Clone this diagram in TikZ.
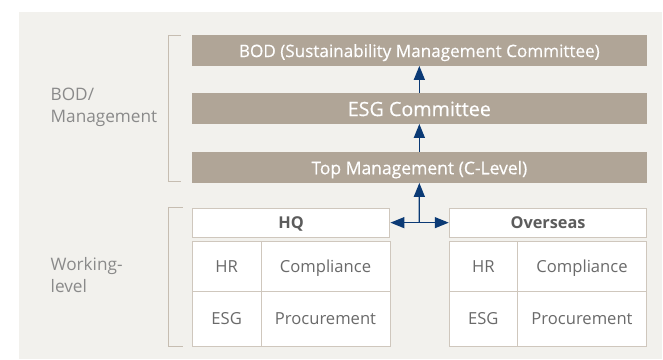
\documentclass[tikz,border=0pt]{standalone}
\usepackage{fontspec}
\setmainfont{Open Sans}
\newfontfamily\medfont{Open Sans}[FakeBold=0.4]
\usetikzlibrary{arrows.meta}
\definecolor{bgc}{HTML}{F2F1ED}
\definecolor{boxc}{HTML}{B0A597}
\definecolor{navy}{HTML}{0B3A75}
\definecolor{linec}{HTML}{CFC7BD}
\definecolor{brk}{HTML}{C6BDB1}
\definecolor{lbl}{HTML}{8A8A8A}
\definecolor{celltxt}{HTML}{6A6A6A}
\definecolor{unittxt}{HTML}{5C5C5C}
\tikzset{
  capcenter/.style={text height=#1, text depth=0pt},
  level/.style={fill=boxc, text=white, minimum width=454.7pt, minimum height=30.7pt, inner sep=0pt, anchor=center},
  unit/.style={draw=linec, line width=1pt, fill=white, minimum width=197.5pt, minimum height=29.3pt, inner sep=0pt, text=unittxt, font=\fontsize{16.3}{18}\selectfont\bfseries, capcenter=11.6pt},
  cell/.style={draw=linec, line width=1pt, fill=white, inner sep=0pt, text=celltxt, font=\fontsize{16.6}{18}\selectfont, capcenter=11.85pt},
  side/.style={text=lbl, align=left, anchor=west, font=\fontsize{17.2}{22}\selectfont, inner sep=0pt},
  bracket/.style={draw=brk, line width=1pt},
  uparrow/.style={draw=navy, line width=1.3pt, -{Triangle[length=14pt,width=11pt]}},
}
\begin{document}
\begin{tikzpicture}[x=1pt,y=-1pt]
\useasboundingbox (0,0) rectangle (663,359);
\fill[bgc] (19,12) rectangle (662,359);
% levels
\node[level, font=\medfont\fontsize{17.1}{18}\selectfont, capcenter=13.4pt] (bod) at (419.35,50.35) {BOD (Sustainability Management Committee)};
\node[level, font=\medfont\fontsize{19.7}{20}\selectfont, capcenter=15.4pt] (esg) at (419.35,108.35) {ESG Committee};
\node[level, font=\medfont\fontsize{17.5}{18}\selectfont, capcenter=13.8pt] (top) at (419.35,167.35) {Top Management (C-Level)};
% units
\node[unit] (hq) at (291.15,222.65) {HQ};
\node[unit] (ov) at (548,222.65) {Overseas};
% HQ grid
\node[cell, minimum width=68.7pt, minimum height=49.6pt] (hqhr) at (226.65,266.5) {HR};
\node[cell, minimum width=129pt, minimum height=49.6pt] (hqco) at (325.5,266.5) {Compliance};
\node[cell, minimum width=68.7pt, minimum height=54.7pt] (hqesg) at (226.65,318.65) {ESG};
\node[cell, minimum width=129pt, minimum height=54.7pt] (hqpr) at (325.5,318.65) {Procurement};
% Overseas grid
\node[cell, minimum width=68pt, minimum height=49.6pt] (ovhr) at (483.3,266.5) {HR};
\node[cell, minimum width=129.4pt, minimum height=49.6pt] (ovco) at (582,266.5) {Compliance};
\node[cell, minimum width=68pt, minimum height=54.7pt] (ovesg) at (483.3,318.65) {ESG};
\node[cell, minimum width=129.4pt, minimum height=54.7pt] (ovpr) at (582,318.65) {Procurement};
% side labels
\node[side] (lbm) at (50.5,107.5) {BOD/\\Management};
\node[side] (lwl) at (50.5,275) {Working-\\level};
% brackets
\draw[bracket] (180.7,35) -- (168.3,35) -- (168.3,181.5) -- (180.7,181.5);
\draw[bracket] (182.7,207.5) -- (168.3,207.5) -- (168.3,346) -- (182.7,346);
% arrows
\coordinate (hub) at (419.3,222.65);
\draw[uparrow] (top.north) -- (esg.south);
\draw[uparrow] (esg.north) -- (bod.south);
\draw[uparrow] (hub) -- (top.south);
\draw[uparrow] (hub) -- (hq.east);
\draw[uparrow] (hub) -- (ov.west);
\end{tikzpicture}
\end{document}
